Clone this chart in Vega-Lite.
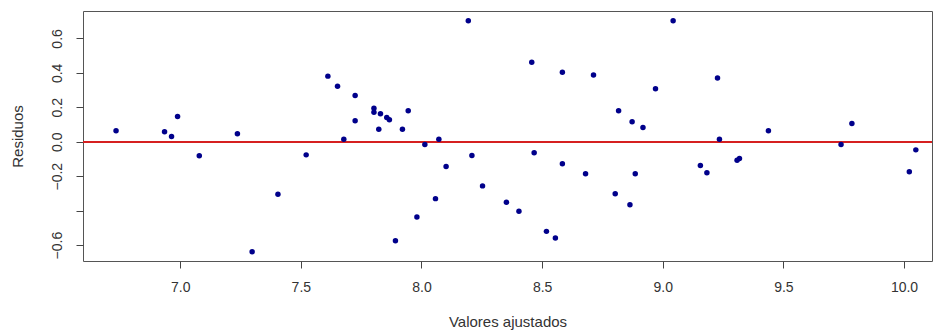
{
  "$schema": "https://vega.github.io/schema/vega-lite/v6.json",
  "width": 849,
  "height": 250,
  "autosize": {"type": "none"},
  "padding": {"left": 83, "top": 11, "right": 3, "bottom": 72},
  "background": "white",
  "config": {
    "font": "Liberation Sans",
    "view": {"stroke": "#555555", "strokeWidth": 1},
    "axis": {"grid": false, "domain": false, "tickColor": "#444444", "tickSize": 7, "labelColor": "#333333", "labelFontSize": 14, "titleColor": "#333333", "titleFontSize": 15, "titleFontWeight": "normal", "labelFont": "Liberation Sans", "titleFont": "Liberation Sans"}
  },
  "data": {"values": [
    {"ajustado": 6.734, "residuo": 0.064},
    {"ajustado": 6.935, "residuo": 0.058},
    {"ajustado": 6.964, "residuo": 0.031},
    {"ajustado": 6.989, "residuo": 0.147},
    {"ajustado": 7.079, "residuo": -0.081},
    {"ajustado": 7.237, "residuo": 0.047},
    {"ajustado": 7.405, "residuo": -0.305},
    {"ajustado": 7.298, "residuo": -0.638},
    {"ajustado": 7.522, "residuo": -0.076},
    {"ajustado": 7.612, "residuo": 0.381},
    {"ajustado": 7.652, "residuo": 0.322},
    {"ajustado": 7.725, "residuo": 0.269},
    {"ajustado": 7.678, "residuo": 0.015},
    {"ajustado": 7.725, "residuo": 0.122},
    {"ajustado": 7.803, "residuo": 0.195},
    {"ajustado": 7.803, "residuo": 0.172},
    {"ajustado": 7.830, "residuo": 0.163},
    {"ajustado": 7.823, "residuo": 0.073},
    {"ajustado": 7.856, "residuo": 0.141},
    {"ajustado": 7.867, "residuo": 0.128},
    {"ajustado": 7.921, "residuo": 0.073},
    {"ajustado": 7.945, "residuo": 0.180},
    {"ajustado": 7.892, "residuo": -0.574},
    {"ajustado": 7.981, "residuo": -0.436},
    {"ajustado": 8.014, "residuo": -0.016},
    {"ajustado": 8.058, "residuo": -0.330},
    {"ajustado": 8.072, "residuo": 0.015},
    {"ajustado": 8.102, "residuo": -0.144},
    {"ajustado": 8.194, "residuo": 0.703},
    {"ajustado": 8.209, "residuo": -0.080},
    {"ajustado": 8.253, "residuo": -0.256},
    {"ajustado": 8.352, "residuo": -0.351},
    {"ajustado": 8.404, "residuo": -0.403},
    {"ajustado": 8.457, "residuo": 0.461},
    {"ajustado": 8.467, "residuo": -0.064},
    {"ajustado": 8.518, "residuo": -0.520},
    {"ajustado": 8.555, "residuo": -0.558},
    {"ajustado": 8.584, "residuo": 0.403},
    {"ajustado": 8.584, "residuo": -0.128},
    {"ajustado": 8.680, "residuo": -0.186},
    {"ajustado": 8.713, "residuo": 0.387},
    {"ajustado": 8.803, "residuo": -0.302},
    {"ajustado": 8.817, "residuo": 0.180},
    {"ajustado": 8.873, "residuo": 0.116},
    {"ajustado": 8.918, "residuo": 0.083},
    {"ajustado": 8.886, "residuo": -0.186},
    {"ajustado": 8.864, "residuo": -0.366},
    {"ajustado": 8.970, "residuo": 0.308},
    {"ajustado": 9.043, "residuo": 0.703},
    {"ajustado": 9.227, "residuo": 0.370},
    {"ajustado": 9.235, "residuo": 0.015},
    {"ajustado": 9.156, "residuo": -0.138},
    {"ajustado": 9.183, "residuo": -0.180},
    {"ajustado": 9.308, "residuo": -0.107},
    {"ajustado": 9.318, "residuo": -0.097},
    {"ajustado": 9.438, "residuo": 0.064},
    {"ajustado": 9.739, "residuo": -0.016},
    {"ajustado": 9.784, "residuo": 0.106},
    {"ajustado": 10.022, "residuo": -0.174},
    {"ajustado": 10.049, "residuo": -0.047}
  ]},
  "layer": [
    {
      "mark": {"type": "rule", "color": "#d62020", "strokeWidth": 1.5},
      "encoding": {"y": {"datum": 0, "type": "quantitative", "scale": {"domain": [-0.692, 0.759], "nice": false, "zero": false}}}
    },
    {
      "mark": {"type": "circle", "color": "#00008b", "opacity": 1, "size": 30},
      "encoding": {
        "x": {"field": "ajustado", "type": "quantitative", "scale": {"domain": [6.597, 10.116], "nice": false, "zero": false},
              "axis": {"title": "Valores ajustados", "values": [7.0, 7.5, 8.0, 8.5, 9.0, 9.5, 10.0], "format": ".1f", "labelPadding": 12, "titlePadding": 20}},
        "y": {"field": "residuo", "type": "quantitative", "scale": {"domain": [-0.692, 0.759], "nice": false, "zero": false},
              "axis": {"title": "Residuos", "values": [-0.6, -0.4, -0.2, 0.0, 0.2, 0.4, 0.6], "labelExpr": "datum.value < -0.35 && datum.value > -0.45 ? '' : format(datum.value, '.1f')", "labelAngle": -90, "labelAlign": "center", "labelBaseline": "bottom", "labelPadding": 12, "titlePadding": 25}}
      }
    }
  ]
}
